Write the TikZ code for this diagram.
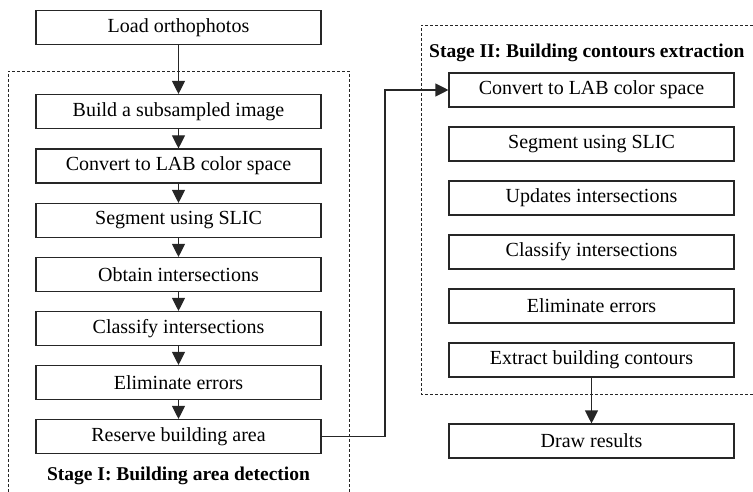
\documentclass[tikz,border=0pt]{standalone}
\usepackage{fontspec}
\setmainfont{Liberation Serif}
\usetikzlibrary{arrows.meta}
\begin{document}
\begin{tikzpicture}[x=1pt,y=-1pt,
  stepbox/.style={draw=black!85, line width=1.1pt, minimum width=285pt, minimum height=34pt, inner sep=0pt, font=\fontsize{20}{23}\selectfont},
  stagebox/.style={draw=black!85, line width=0.9pt, dash pattern=on 3pt off 2pt},
  stagelabel/.style={font=\fontsize{19.5}{23}\selectfont\bfseries, inner sep=0pt},
  flow/.style={draw=black!85, line width=1.1pt, -{Triangle[width=13pt,length=13pt]}}]
\useasboundingbox (0,0) rectangle (753,492);
% stage boxes
\draw[stagebox] (8,492) -- (8,71) -- (349,71) -- (349,492);
\draw[stagebox] (753,25) -- (421,25) -- (421,394) -- (753,394);
% left column
\node[stepbox] (load) at (178.5,27.5) {Load orthophotos};
\node[stepbox] (build) at (178.5,111.5) {Build a subsampled image};
\node[stepbox] (lab1) at (178.5,166) {Convert to LAB color space};
\node[stepbox] (seg1) at (178.5,220.5) {Segment using SLIC};
\node[stepbox] (obt) at (178.5,274.5) {Obtain intersections};
\node[stepbox] (cls1) at (178.5,328.5) {Classify intersections};
\node[stepbox] (elim1) at (178.5,382.5) {Eliminate errors};
\node[stepbox] (res) at (178.5,436.5) {Reserve building area};
\node[stagelabel] (st1) at (178.5,476) {Stage I: Building area detection};
% right column
\node[stagelabel, anchor=west] (st2) at (429,53) {Stage II: Building contours extraction};
\node[stepbox] (lab2) at (591.5,90) {Convert to LAB color space};
\node[stepbox] (seg2) at (591.5,144) {Segment using SLIC};
\node[stepbox] (upd) at (591.5,198) {Updates intersections};
\node[stepbox] (cls2) at (591.5,252) {Classify intersections};
\node[stepbox] (elim2) at (591.5,306) {Eliminate errors};
\node[stepbox] (ext) at (591.5,360) {Extract building contours};
\node[stepbox] (draw) at (591.5,441) {Draw results};
% connectors
\draw[flow] (load) -- (build);
\draw[flow] (build) -- (lab1);
\draw[flow] (lab1) -- (seg1);
\draw[flow] (seg1) -- (obt);
\draw[flow] (obt) -- (cls1);
\draw[flow] (cls1) -- (elim1);
\draw[flow] (elim1) -- (res);
\coordinate (turn) at (385,436.5);
\draw[flow] (res.east) -- (turn) |- (lab2.west);
\draw[flow] (ext) -- (draw);
\end{tikzpicture}
\end{document}
